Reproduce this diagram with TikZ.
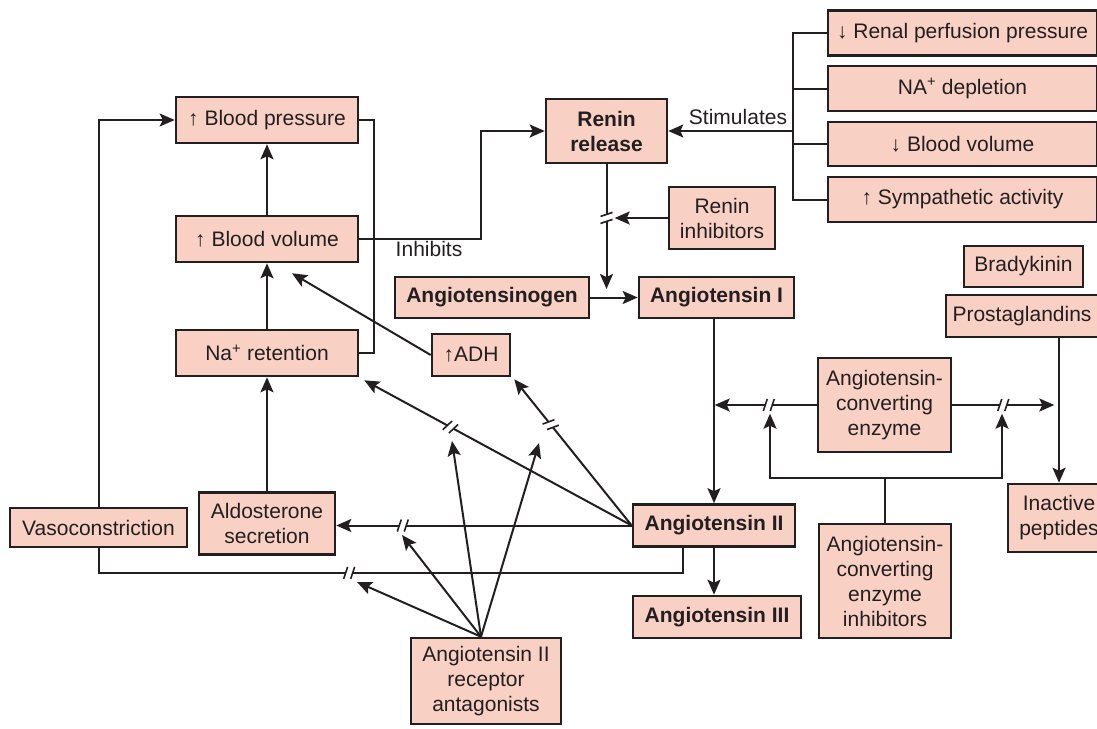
\documentclass[tikz,border=0pt]{standalone}
\usepackage{fontspec}
\setmainfont{Liberation Sans}
\usetikzlibrary{arrows.meta,decorations.markings}

\definecolor{boxfill}{RGB}{248,208,196}
\definecolor{ink}{RGB}{35,31,32}

% two short parallel strokes that interrupt a connector (blocked step)
\newcommand{\brkslash}[1]{%
  \begin{scope}[yscale=#1, arrows=-]
    \fill[white] (-4.5,3) -- (-2.5,-3) -- (4.5,-3) -- (2.5,3) -- cycle;
    \draw[ink, line width=1.6pt] (-5.5,6) -- (-1.5,-6);
    \draw[ink, line width=1.6pt] (1.5,6) -- (5.5,-6);
  \end{scope}}

\tikzset{
  box/.style={draw=ink, fill=boxfill, line width=2.6pt, inner sep=0pt,
    align=center, text=ink, font=\fontsize{21}{25}\selectfont},
  bbox/.style={box, font=\fontsize{21}{25}\selectfont\bfseries},
  lbl/.style={inner sep=0pt, text=ink, font=\fontsize{21}{25}\selectfont},
  wire/.style={draw=ink, line width=2pt},
  arr/.style={wire, -{Stealth[length=15pt,width=13pt,inset=3pt]}},
  brk/.style={postaction={decorate, decoration={markings,
    mark=at position #1 with {\brkslash{1}}}}},
  brkm/.style={postaction={decorate, decoration={markings,
    mark=at position #1 with {\brkslash{-1}}}}},
}

\begin{document}
\begin{tikzpicture}[x=1pt, y=-1pt]
\useasboundingbox (0,0) rectangle (1097,728);
\clip (0,0) rectangle (1097,728);

% ---- left column: effects ----
\node[box, minimum width=182, minimum height=46] (bp) at (267,120) {↑ Blood pressure};
\node[box, minimum width=182, minimum height=46] (bv) at (267,239) {↑ Blood volume};
\node[box, minimum width=182, minimum height=46] (na) at (267,353) {Na\textsuperscript{+} retention};
\node[box, minimum width=177, minimum height=39] (vaso) at (98.5,527.5) {Vasoconstriction};
\node[box, minimum width=136, minimum height=62] (aldo) at (267,523.5) {Aldosterone\\secretion};
\node[box, minimum width=78, minimum height=42] (adh) at (471,355) {↑ADH};

% ---- renin cascade ----
\node[bbox, minimum width=121, minimum height=64] (renin) at (606.5,131) {Renin\\release};
\node[box, minimum width=106, minimum height=62] (rinh) at (722,218) {Renin\\inhibitors};
\node[bbox, minimum width=194, minimum height=41] (ago) at (492,297.5) {Angiotensinogen};
\node[bbox, minimum width=155, minimum height=41] (ang1) at (716.5,297.5) {Angiotensin I};
\node[bbox, minimum width=162, minimum height=42] (ang2) at (714,525.5) {Angiotensin II};
\node[bbox, minimum width=168, minimum height=42] (ang3) at (717,617) {Angiotensin III};

% ---- converting enzyme ----
\node[box, minimum width=133, minimum height=94] (ace) at (884.5,405) {Angiotensin-\\converting\\enzyme};
\node[box, minimum width=132, minimum height=114] (acei) at (885,581) {Angiotensin-\\converting\\enzyme\\inhibitors};
\node[box, minimum width=119, minimum height=41] (brady) at (1023.5,266.5) {Bradykinin};
\node[box, minimum width=152, minimum height=42] (pg) at (1022,316) {Prostaglandins};
\node[box, minimum width=102, minimum height=68] (inact) at (1059,518) {Inactive\\peptides};

\node[box, minimum width=150, minimum height=86] (rec) at (486,681) {Angiotensin II\\receptor\\antagonists};

% ---- stimuli ----
\node[box, minimum width=269, minimum height=45] (r1) at (962.5,33) {↓ Renal perfusion pressure};
\node[box, minimum width=269, minimum height=45] (r2) at (962.5,88.5) {NA\textsuperscript{+} depletion};
\node[box, minimum width=269, minimum height=44] (r3) at (962.5,144) {↓ Blood volume};
\node[box, minimum width=269, minimum height=45] (r4) at (962.5,199.5) {↑ Sympathetic activity};

% stimuli bracket into renin release
\draw[wire] (r1.west) -- ++(-34,0) |- (r4.west);
\draw[wire] (r2.west) -- ++(-34,0);
\draw[wire] (r3.west) -- ++(-34,0);
\draw[arr] ([xshift=-34]renin.east -| r1.west) -- (renin.east);
\node[lbl] (stimtxt) at (738,117) {Stimulates};

% feedback loops on the left
\draw[arr] (bv.north) -- (bp.south);
\draw[arr] (na.north) -- (bv.south);
\draw[arr] (aldo.north) -- (na.south);
\draw[arr] (vaso.north) |- (bp.west);
\draw[wire] (bp.east) -- ++(15,0) |- (na.east);
\draw[arr] (bv.east) -- ++(122,0) |- (renin.west);
\node[lbl] (inhtxt) at (429,249) {Inhibits};
\draw[arr] (adh.west) -- ([shift={(25,10)}]bv.south);

% renin acts on angiotensinogen
\coordinate (rtip) at (606.5,289);
\draw[arr, brkm=0.43] (renin.south) -- (rtip);
\draw[arr] (rinh.west) -- ++(-53,0);
\draw[arr] (ago.east) -- (ang1.west);
\draw[arr] (ang1.south -| ang2.north) -- (ang2.north);
\draw[arr] (ang2.south) -- (ang2.south |- ang3.north);

% converting enzyme and its inhibitors
\draw[arr, brk=0.47] (ace.west) -- ++(-102,0);
\draw[arr, brk=0.5] (ace.east) -- ++(102,0);
\draw[wire] (acei.north) -- ++(0,-45) coordinate (fork);
\draw[arr] (fork) -| ++(-115,-64);
\draw[arr] (fork) -| ++(117,-64);
\draw[arr] (inact.north |- pg.south) -- (inact.north);

% angiotensin II effects
\draw[arr, brk=0.775] (ang2.west) -- (ang2.west -| aldo.east);
\draw[arr, brk=0.678] (ang2.west) -- ([shift={(5,3)}]na.south east);
\draw[arr, brk=0.69] (ang2.west) -- ([shift={(3,2)}]adh.south east);
\draw[wire, brk=0.566] ([xshift=-31]ang2.south) -- ++(0,25) -| (vaso.south);

% receptor antagonists block the effects
\coordinate (apex) at ([xshift=-5]rec.north);
\draw[arr] (apex) -- (357,582);
\draw[arr] (apex) -- (402,535);
\draw[arr] (apex) -- (452,441);
\draw[arr] (apex) -- (539,443);
\end{tikzpicture}
\end{document}
